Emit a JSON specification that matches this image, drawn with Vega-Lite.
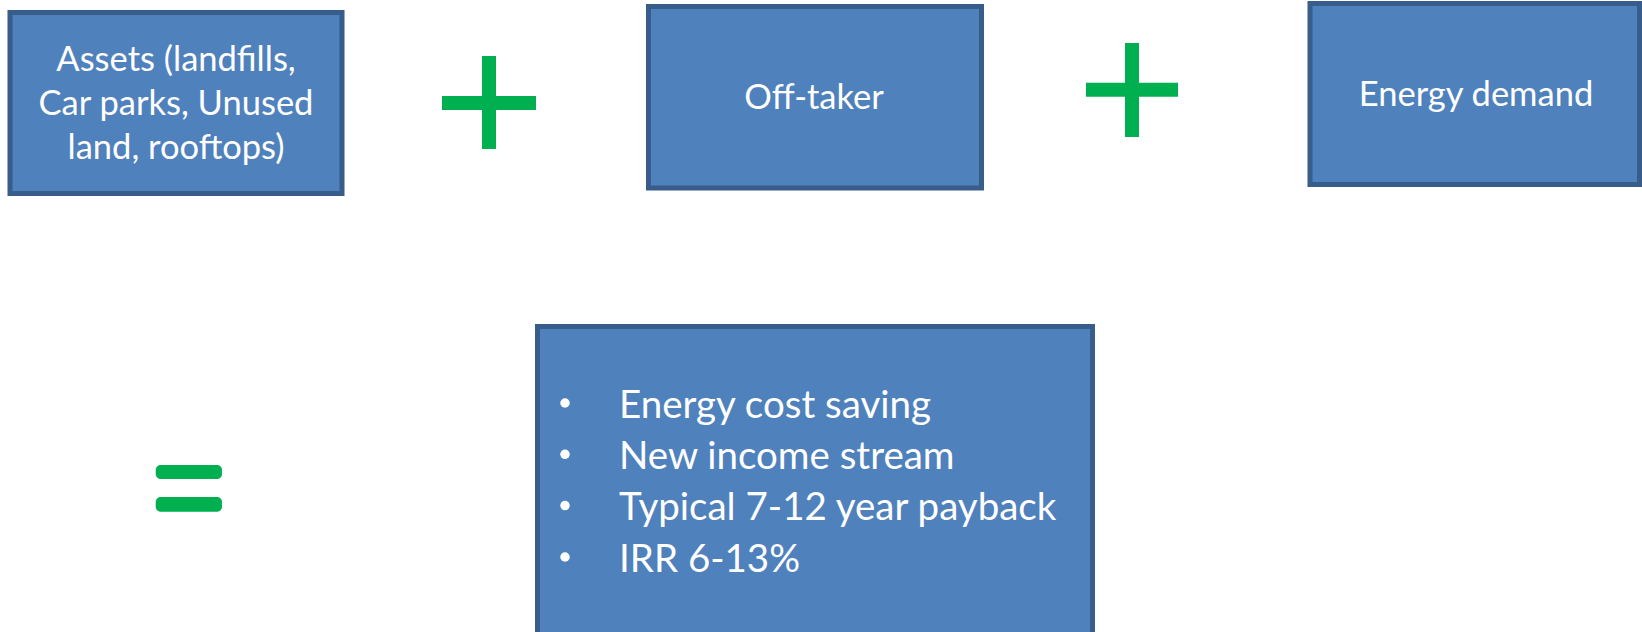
{
  "$schema": "https://vega.github.io/schema/vega-lite/v6.json",
  "autosize": {"type": "fit", "contains": "padding"},
  "width": 1642,
  "height": 632,
  "padding": 0,
  "background": "white",
  "config": {"view": {"stroke": null}},
  "datasets": {
    "boxes": [
      {"name": "Assets", "x1": 10, "x2": 342, "y1": 12.5, "y2": 193.5},
      {"name": "Off-taker", "x1": 648.5, "x2": 981.5, "y1": 6.5, "y2": 188},
      {"name": "Energy demand", "x1": 1310, "x2": 1639.5, "y1": 3.5, "y2": 184.5},
      {"name": "Outcome", "x1": 537.5, "x2": 1092.5, "y1": 326.5, "y2": 645}
    ],
    "plus": [
      {"part": "plus1 h", "x1": 442, "x2": 536, "y1": 96, "y2": 110},
      {"part": "plus1 v", "x1": 482, "x2": 496, "y1": 56, "y2": 149},
      {"part": "plus2 h", "x1": 1086, "x2": 1178, "y1": 82.7, "y2": 96.7},
      {"part": "plus2 v", "x1": 1125, "x2": 1139, "y1": 43, "y2": 137}
    ],
    "equals": [
      {"part": "eq top", "x1": 155.7, "x2": 222, "y1": 465, "y2": 479},
      {"part": "eq bottom", "x1": 155.7, "x2": 222, "y1": 497, "y2": 511.7}
    ],
    "labels": [
      {"text": "Assets (landfills,", "x": 176, "y": 71},
      {"text": "Car parks, Unused", "x": 176, "y": 115},
      {"text": "land, rooftops)", "x": 176, "y": 159},
      {"text": "Off-taker", "x": 814, "y": 109},
      {"text": "Energy demand", "x": 1476, "y": 106}
    ],
    "bullets": [
      {"text": "Energy cost saving", "x": 619, "y": 417.7, "bx": 565, "by": 403},
      {"text": "New income stream", "x": 619, "y": 469, "bx": 565, "by": 454.3},
      {"text": "Typical 7-12 year payback", "x": 619, "y": 520.3, "bx": 565, "by": 505.6},
      {"text": "IRR 6-13%", "x": 619, "y": 571.6, "bx": 565, "by": 557}
    ]
  },
  "layer": [
    {
      "data": {"name": "boxes"},
      "mark": {"type": "rect", "fill": "#4F81BD", "stroke": "#385D8A", "strokeWidth": 5, "clip": true},
      "encoding": {
        "x": {"field": "x1", "type": "quantitative", "scale": {"domain": [0, 1642], "nice": false, "zero": false}, "axis": null},
        "x2": {"field": "x2"},
        "y": {"field": "y1", "type": "quantitative", "scale": {"domain": [0, 632], "nice": false, "zero": false, "reverse": true}, "axis": null},
        "y2": {"field": "y2"}
      }
    },
    {
      "data": {"name": "plus"},
      "mark": {"type": "rect", "fill": "#00B050"},
      "encoding": {
        "x": {"field": "x1", "type": "quantitative"},
        "x2": {"field": "x2"},
        "y": {"field": "y1", "type": "quantitative"},
        "y2": {"field": "y2"}
      }
    },
    {
      "data": {"name": "equals"},
      "mark": {"type": "rect", "fill": "#00B050", "cornerRadius": 5},
      "encoding": {
        "x": {"field": "x1", "type": "quantitative"},
        "x2": {"field": "x2"},
        "y": {"field": "y1", "type": "quantitative"},
        "y2": {"field": "y2"}
      }
    },
    {
      "data": {"name": "labels"},
      "mark": {"type": "text", "font": "Lato", "fontSize": 34.5, "color": "white", "align": "center", "baseline": "alphabetic"},
      "encoding": {
        "x": {"field": "x", "type": "quantitative"},
        "y": {"field": "y", "type": "quantitative"},
        "text": {"field": "text"}
      }
    },
    {
      "data": {"name": "bullets"},
      "mark": {"type": "text", "font": "Lato", "fontSize": 38.5, "color": "white", "align": "left", "baseline": "alphabetic"},
      "encoding": {
        "x": {"field": "x", "type": "quantitative"},
        "y": {"field": "y", "type": "quantitative"},
        "text": {"field": "text"}
      }
    },
    {
      "data": {"name": "bullets"},
      "mark": {"type": "point", "shape": "circle", "filled": true, "color": "white", "opacity": 1, "size": 90},
      "encoding": {
        "x": {"field": "bx", "type": "quantitative"},
        "y": {"field": "by", "type": "quantitative"}
      }
    }
  ]
}
